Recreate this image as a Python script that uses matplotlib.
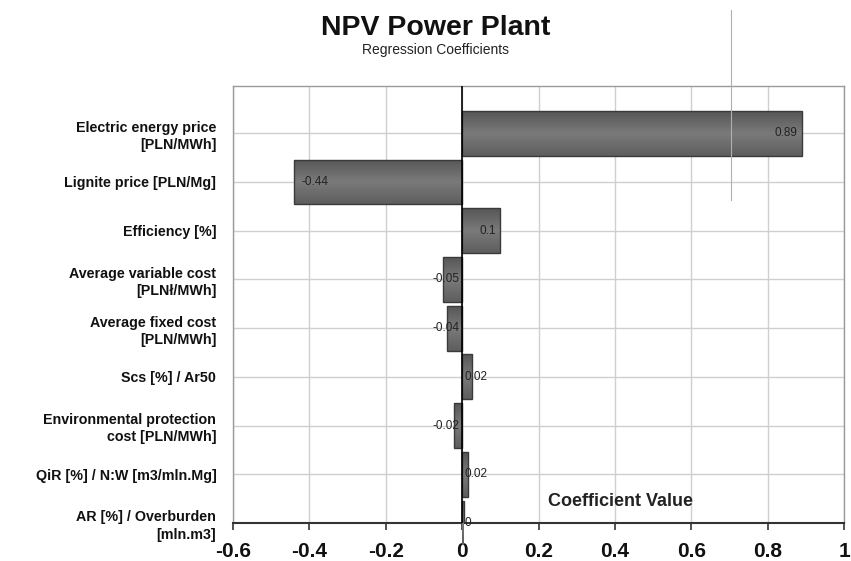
import numpy as np
import matplotlib
matplotlib.use("Agg")
import matplotlib.pyplot as plt
from matplotlib.colors import LinearSegmentedColormap

categories = [
    "Electric energy price\n[PLN/MWh]",
    "Lignite price [PLN/Mg]",
    "Efficiency [%]",
    "Average variable cost\n[PLNł/MWh]",
    "Average fixed cost\n[PLN/MWh]",
    "Scs [%] / Ar50",
    "Environmental protection\ncost [PLN/MWh]",
    "QiR [%] / N:W [m3/mln.Mg]",
    "AR [%] / Overburden\n[mln.m3]",
]
values = [0.89, -0.44, 0.10, -0.05, -0.04, 0.025, -0.02, 0.015, 0.004]
value_labels = ["0.89", "-0.44", "0.1", "-0.05", "-0.04", "0.02", "-0.02", "0.02", "0"]
xticks = [-0.6, -0.4, -0.2, 0, 0.2, 0.4, 0.6, 0.8, 1]
xtick_labels = ["-0.6", "-0.4", "-0.2", "0", "0.2", "0.4", "0.6", "0.8", "1"]

plt.rcParams['font.family'] = ['Liberation Sans', 'DejaVu Sans']

fig = plt.figure(figsize=(8.51, 5.61), dpi=100)
ax = fig.add_axes([233/851, 1-523/561, (844-233)/851, (523-86)/561])

y = np.arange(len(categories))
bar_h = 0.92
bars = ax.barh(y, values, height=bar_h, color="#686868", edgecolor="#3a3a3a",
               linewidth=1.0, zorder=3)

# subtle gradient fill inside each bar
cmap = LinearSegmentedColormap.from_list("g", ["#575757", "#7a7a7a", "#5e5e5e"])
grad = np.linspace(0, 1, 64).reshape(-1, 1)
for b in bars:
    x0, y0 = b.get_x(), b.get_y()
    w, h = b.get_width(), b.get_height()
    if w == 0:
        continue
    im = ax.imshow(grad, cmap=cmap, aspect="auto", zorder=3.5,
                   extent=[min(x0, x0 + w), max(x0, x0 + w), y0 + h, y0])
    im.set_clip_path(b)
    b.set_facecolor("none")
    b.set_zorder(4)

ax.set_xlim(-0.6, 1.0)
ax.set_ylim(len(categories) - 1, -0.97)

ax.set_xticks(xticks)
ax.set_xticklabels(xtick_labels, fontsize=15, fontweight="bold", color="#111111")
ax.set_yticks(y)
ax.set_yticklabels(categories, fontsize=10.3, fontweight="bold", linespacing=1.3,
                   color="#111111")
ax.tick_params(axis="y", length=0, pad=12)
ax.tick_params(axis="x", length=5, width=1.2, color="#333333", pad=9)

ax.grid(True, color="#cfcfcf", linewidth=1.0, zorder=0)
ax.set_axisbelow(True)
ax.axvline(0, color="black", linewidth=1.2, zorder=5)

for s in ["top", "right", "left"]:
    ax.spines[s].set_color("#9a9a9a")
    ax.spines[s].set_linewidth(1.0)
ax.spines["bottom"].set_color("#333333")
ax.spines["bottom"].set_linewidth(1.5)

# value labels
for yi, v, lab in zip(y, values, value_labels):
    if abs(v) > 0.08:
        if v > 0:
            ax.annotate(lab, (v, yi), xytext=(-3, 0), textcoords="offset points",
                        ha="right", va="center", fontsize=8.5, color="#222222", zorder=6)
        else:
            ax.annotate(lab, (v, yi), xytext=(5, 0), textcoords="offset points",
                        ha="left", va="center", fontsize=8.5, color="#222222", zorder=6)
    else:
        if v >= 0:
            ax.annotate(lab, (0, yi), xytext=(2, 0), textcoords="offset points",
                        ha="left", va="center", fontsize=8.5, color="#222222", zorder=6)
        else:
            ax.annotate(lab, (0, yi), xytext=(-2, 0), textcoords="offset points",
                        ha="right", va="center", fontsize=8.5, color="#222222", zorder=6)

ax.text(0.225, 7.55, "Coefficient Value", fontsize=13, fontweight="bold",
        color="#222222", ha="left", va="center", zorder=6)

fig.text(436/851, 1-28/561, "NPV Power Plant", fontsize=20.5, fontweight="bold",
         ha="center", va="center", color="#111111")
fig.text(436/851, 1-50/561, "Regression Coefficients", fontsize=10,
         ha="center", va="center", color="#222222")

# stray vertical line artifact in the original image
fig.add_artist(plt.Line2D([731/851, 731/851], [1-10/561, 1-200/561],
                          color="#b0b0b0", linewidth=0.8))

fig.savefig("out.png", dpi=100, facecolor="white")
